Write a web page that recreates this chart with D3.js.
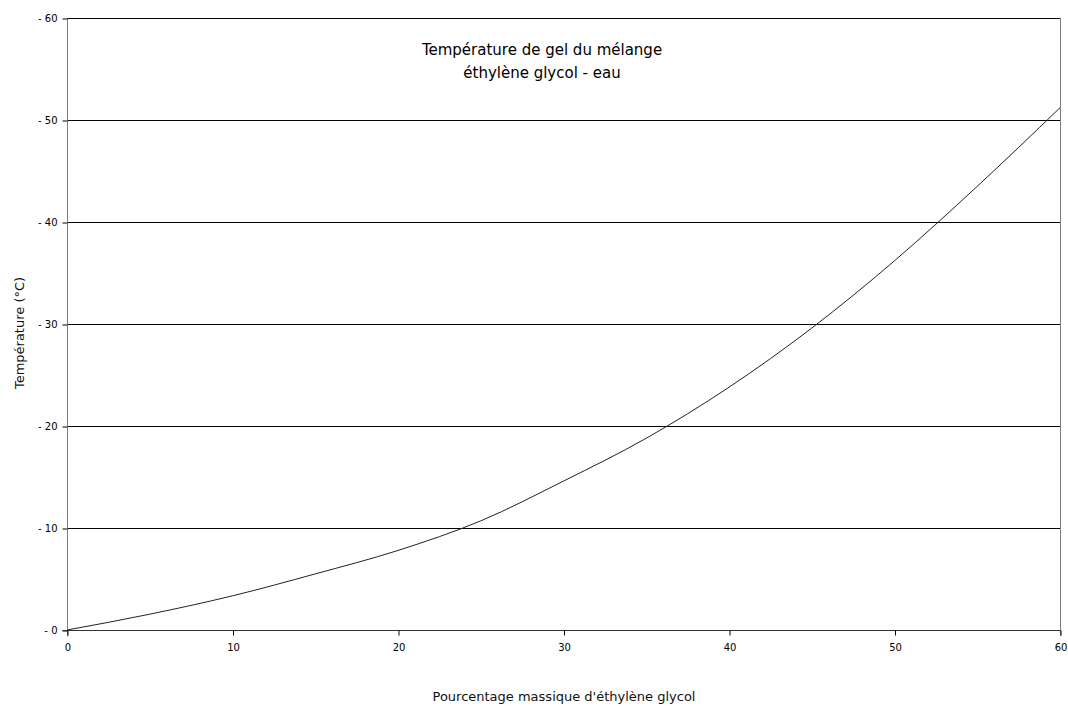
<!DOCTYPE html>
<html><head><meta charset="utf-8">
<script src="https://cdn.jsdelivr.net/npm/d3@7"></script>
<style>body{margin:0;background:#fff}svg{display:block}</style>
</head><body>
<svg id="c" width="1068" height="706"></svg>
<script>
const percent = [0, 5, 10, 15, 20, 25, 30, 35, 40, 45, 50, 55, 60];
const freezeTemp = [0, 1.55, 3.35, 5.5, 7.8, 10.7, 14.6, 18.8, 23.8, 29.6, 36.2, 43.5, 51.2];
const xTicks = [0, 10, 20, 30, 40, 50, 60];
const yTicks = [0, 10, 20, 30, 40, 50, 60];
const titleLines = ["Température de gel du mélange", "éthylène glycol - eau"];
const xLabel = "Pourcentage massique d'éthylène glycol";
const yLabel = "Température (°C)";

const svg = d3.select("#c");
const L = 67, R = 1060, T = 18, B = 630;
const x = d3.scaleLinear().domain([0, 60]).range([L, R]);
const y = d3.scaleLinear().domain([0, 60]).range([B, T]);
const font = "DejaVu Sans, sans-serif";

// gridlines
svg.append("g").selectAll("line").data(yTicks.filter(d => d > 0)).join("line")
  .attr("x1", L).attr("x2", R)
  .attr("y1", d => Math.round(y(d)) + 0.5).attr("y2", d => Math.round(y(d)) + 0.5)
  .attr("stroke", "#000").attr("stroke-width", 1);

// right border
svg.append("line").attr("x1", R + 0.5).attr("x2", R + 0.5).attr("y1", T).attr("y2", B + 6)
  .attr("stroke", "#808080");

// y axis
const yAxis = d3.axisLeft(y).tickValues(yTicks).tickSize(5).tickFormat(d => "- " + d);
const gy = svg.append("g").attr("transform", `translate(${L + 0.5},0.5)`).call(yAxis);
gy.select(".domain").attr("stroke", "#808080").attr("d", `M0,${T}V${B + 6}`);
gy.selectAll(".tick line").attr("stroke", "#000");
gy.selectAll(".tick text").attr("font-family", font).attr("font-size", 10).attr("x", -10).attr("fill", "#000");

// x axis
const xAxis = d3.axisBottom(x).tickValues(xTicks).tickSize(5);
const gx = svg.append("g").attr("transform", `translate(0.5,${B + 0.5})`).call(xAxis);
gx.select(".domain").attr("stroke", "#333").attr("d", `M${L - 5},0H${R}`);
gx.selectAll(".tick line").attr("stroke", "#000");
gx.selectAll(".tick text").attr("font-family", font).attr("font-size", 10).attr("y", 13).attr("fill", "#000");

// curve
const data = percent.map((p, i) => [p, freezeTemp[i]]);
svg.append("path").datum(data)
  .attr("d", d3.line().x(d => x(d[0])).y(d => y(d[1])).curve(d3.curveMonotoneX))
  .attr("fill", "none").attr("stroke", "#222").attr("stroke-width", 1);

// title
svg.append("text").attr("x", 540).attr("y", 55).attr("text-anchor", "middle")
  .attr("font-family", font).attr("font-size", 15).attr("fill", "#000")
  .selectAll("tspan").data(titleLines).join("tspan")
  .attr("x", 542).attr("dy", (d, i) => i === 0 ? 0 : 23).text(d => d);

// axis labels
svg.append("text").attr("x", 564).attr("y", 701).attr("text-anchor", "middle")
  .attr("font-family", font).attr("font-size", 13).attr("fill", "#111").text(xLabel);
svg.append("text").attr("transform", "translate(24,333) rotate(-90)").attr("text-anchor", "middle")
  .attr("font-family", font).attr("font-size", 13).attr("fill", "#111").text(yLabel);
</script>
</body></html>
